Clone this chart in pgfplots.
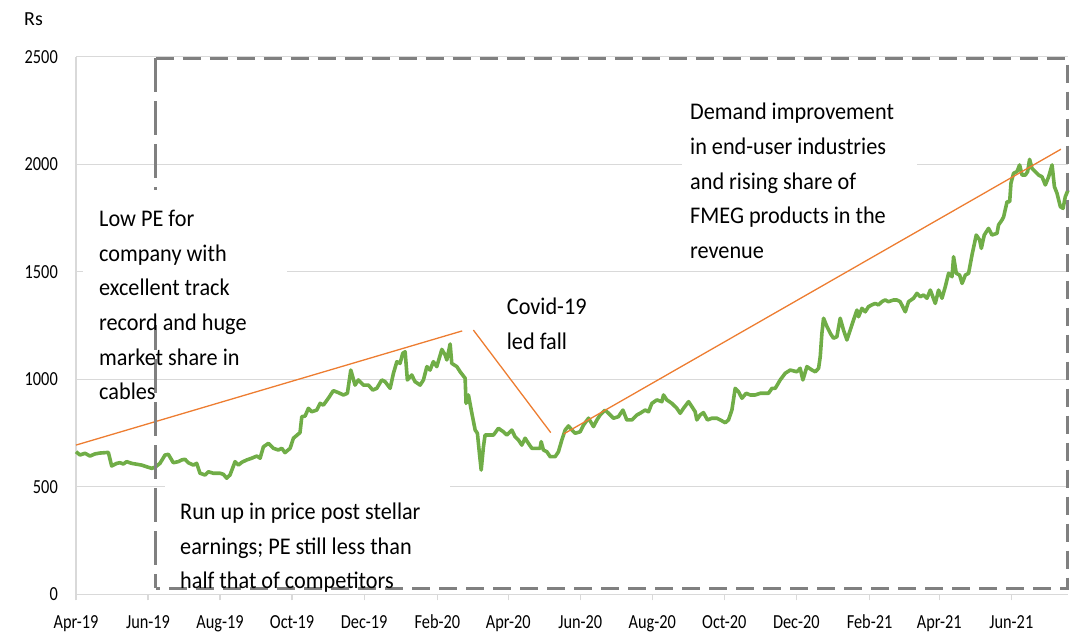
\documentclass[border=0pt]{standalone}
\usepackage{fontspec}
\setmainfont{Carlito}
\newfontfamily\tickfont[FakeStretch=0.82]{Carlito}
\newfontfamily\boxfont[FakeStretch=0.93]{Carlito}
\usepackage{pgfplots}
\pgfplotsset{compat=1.18}
\definecolor{gridgray}{HTML}{D9D9D9}
\definecolor{dashgray}{HTML}{808080}
\definecolor{pricegreen}{HTML}{70AD47}
\definecolor{trendorange}{HTML}{ED7D31}
\begin{document}
\begin{tikzpicture}
\begin{axis}[
  at={(0,0)}, anchor=south west,
  width=992bp, height=537.5bp, scale only axis,
  xmin=0, xmax=840, ymin=0, ymax=2500,
  axis lines*=left,
  axis line style={draw=gridgray, line width=1.3bp},
  xtick={0,61,122,183,244,306,366,427,488,549,610,672,731,792},
  xticklabels={Apr-19,Jun-19,Aug-19,Oct-19,Dec-19,Feb-20,Apr-20,Jun-20,Aug-20,Oct-20,Dec-20,Feb-21,Apr-21,Jun-21},
  ytick={0,500,1000,1500,2000,2500},
  yticklabels={0,500,1000,1500,2000,2500},
  ymajorgrids, grid style={draw=gridgray, line width=1.3bp},
  tick align=outside,
  major tick length=6bp,
  xtick style={draw=gridgray, line width=1.3bp},
  ytick style={draw=none},
  tick label style={font=\tickfont\fontsize{20}{24}\selectfont, text=black},
  xticklabel style={anchor=base, inner sep=0pt, yshift=-28bp},
  yticklabel style={anchor=east, inner sep=0pt, xshift=-12bp},
  clip=false,
]
\addplot[pricegreen, line width=3.6bp, line join=round] coordinates {
(0,663)(3.4,648)(7.6,656)(11.9,643)(16.1,653)(20.3,657)(27.4,660)(30.2,597)(34.5,609)(37.3,612)
(40.1,606)(42.9,617)(47.2,609)(51.4,605)(55.6,601)(59.9,593)(64.1,586)(66.9,591)(71.1,609)(75.4,648)
(78.2,651)(82.4,612)(86.6,617)(89.5,625)(92.3,628)(95.1,612)(99.4,601)(102.2,609)(105.0,563)(109.3,555)
(112.1,570)(116.3,563)(122.0,563)(124.8,558)(127.6,540)(130.4,555)(134.7,617)(137.5,601)(140.4,614)(144.6,625)
(148.8,633)(153.1,643)(155.9,633)(158.7,686)(162.9,702)(167.2,679)(171.4,671)(174.2,679)(177.0,659)(181.3,679)
(184.1,726)(189.7,752)(191.2,826)(194.0,829)(196.8,865)(199.6,849)(203.9,857)(206.7,888)(209.5,880)(213.7,912)
(217.9,947)(222.2,938)(226.4,927)(229.8,935)(232.7,1043)(236.3,973)(239.1,997)(243.4,973)(247.6,973)(251.3,950)
(254.7,958)(258.9,997)(261.7,989)(266.0,958)(268.8,1028)(271.7,1082)(274.4,1074)(276.7,1121)(278.7,1128)(280.6,997)
(284.3,1020)(287.1,989)(291.4,973)(294.2,997)(297.1,1059)(299.8,1043)(302.6,1082)(305.5,1059)(309.8,1139)(312.6,1113)
(314.0,1090)(316.8,1164)(318.2,1074)(322.5,1059)(325.3,1035)(329.5,1005)(330.3,888)(332.3,927)(335.2,842)(338.0,764)
(339.9,749)(341.6,656)(343.1,578)(345.0,686)(346.4,741)(350.7,741)(353.5,741)(357.7,772)(361.9,756)(364.8,741)
(369.0,764)(371.8,733)(374.6,718)(377.5,694)(380.3,726)(383.1,702)(386.0,679)(393.0,679)(393.9,710)(395.8,671)
(398.7,663)(401.5,640)(405.7,640)(408.5,663)(411.4,718)(414.2,764)(417.0,783)(419.9,764)(422.7,749)(426.9,756)
(429.7,787)(434.0,819)(438.2,780)(441.1,811)(443.8,834)(448.1,857)(450.9,842)(455.1,819)(459.3,826)(463.1,857)
(466.4,811)(470.7,811)(474.9,834)(477.7,842)(481.9,857)(484.8,849)(487.6,888)(491.9,904)(496.1,896)(497.5,927)
(500.3,904)(504.6,888)(508.8,865)(511.6,842)(514.4,865)(518.7,896)(521.5,873)(524.3,849)(525.7,811)(528.5,834)
(531.3,845)(534.7,811)(538.5,819)(542.7,819)(546.9,807)(549.7,798)(552.5,811)(555.4,857)(558.2,958)(561.0,942)
(563.9,912)(567.5,935)(570.9,927)(575.1,927)(579.4,935)(586.4,935)(589.3,958)(592.1,958)(596.3,997)(600.5,1028)
(604.8,1043)(610.4,1035)(613.2,1051)(615.5,997)(618.9,1059)(623.2,1043)(626.0,1035)(628.8,1051)(630.2,1105)(631.6,1214)
(633.0,1284)(635.9,1245)(638.7,1214)(641.4,1191)(644.3,1198)(647.1,1284)(649.9,1229)(652.8,1183)(655.6,1229)(658.4,1276)
(661.3,1322)(662.6,1291)(665.5,1330)(668.3,1314)(671.1,1338)(673.9,1346)(676.7,1353)(679.5,1346)(682.4,1361)(685.2,1369)
(688.0,1361)(692.3,1369)(695.1,1369)(697.9,1361)(702.2,1314)(705.0,1361)(709.2,1377)(712.1,1400)(714.9,1384)(717.7,1392)
(720.6,1377)(723.4,1415)(727.6,1353)(730.4,1415)(733.3,1377)(736.1,1431)(738.9,1493)(741.8,1477)(743.1,1570)(745.4,1493)
(748.2,1485)(750.3,1446)(753.1,1485)(755.8,1493)(758.7,1578)(762.3,1671)(765.2,1648)(766.6,1609)(769.1,1671)(772.7,1702)
(775.6,1671)(779.9,1679)(781.2,1718)(784.1,1741)(785.5,1756)(788.4,1826)(790.6,1826)(791.7,1912)(793.9,1958)(796.8,1966)
(799.0,1997)(801.1,1950)(803.9,1950)(805.8,1966)(807.5,2023)(809.5,1981)(812.3,1966)(815.1,1950)(818.0,1942)(820.8,1904)
(823.6,1942)(826.5,1997)(828.5,1896)(830.7,1865)(833.5,1803)(835.8,1795)(837.7,1849)(840.0,1880)
};
\addplot[trendorange, line width=1.3bp] coordinates {(0,694)(327,1225)};
\addplot[trendorange, line width=1.3bp] coordinates {(336.5,1229)(402,752)};
\addplot[trendorange, line width=1.3bp] coordinates {(413,746)(834,2070)};
% dashed frame
\draw[dashgray, line width=3bp, dash pattern=on 18bp off 9bp]
  (axis cs:67.5,2493) -- (axis cs:839.4,2493) -- (axis cs:839.4,28) -- (axis cs:67.5,28);
\draw[dashgray, line width=3bp, dash pattern=on 34bp off 9bp]
  (axis cs:67.5,2493) -- (axis cs:67.5,28);
\end{axis}
% white text boxes
\fill[white] (7bp,269.3bp) rectangle (211bp,404.3bp);
\fill[white] (89bp,18.3bp) rectangle (374bp,113.3bp);
\fill[white] (606bp,389.3bp) rectangle (841bp,502.3bp);
% texts
\begin{scope}[every node/.style={anchor=base west, inner sep=0pt, font=\boxfont\fontsize{24}{28}\selectfont, text=black}]
\node at (23bp,367.6bp) {Low PE for};
\node at (23bp,333.0bp) {company with};
\node at (23bp,298.3bp) {excellent track};
\node at (23bp,263.7bp) {record and huge};
\node at (23bp,229.1bp) {market share in};
\node at (23bp,194.5bp) {cables};
\node at (104bp,74.3bp) {Run up in price post stellar};
\node at (104bp,39.8bp) {earnings; PE still less than};
\node at (104bp,5.8bp) {half that of competitors};
\node at (430.7bp,279.3bp) {Covid-19};
\node at (430.7bp,244.3bp) {led fall};
\node at (614bp,474.3bp) {Demand improvement};
\node at (614bp,439.7bp) {in end-user industries};
\node at (614bp,405.1bp) {and rising share of};
\node at (614bp,370.5bp) {FMEG products in the};
\node at (614bp,335.9bp) {revenue};
\end{scope}
\node[anchor=base west, inner sep=0pt, font=\fontsize{20}{24}\selectfont] at (-52bp,568.3bp) {Rs};
\pgfresetboundingbox
\useasboundingbox (-76bp,-38.7bp) rectangle (1002bp,594.3bp);
\end{tikzpicture}
\end{document}
